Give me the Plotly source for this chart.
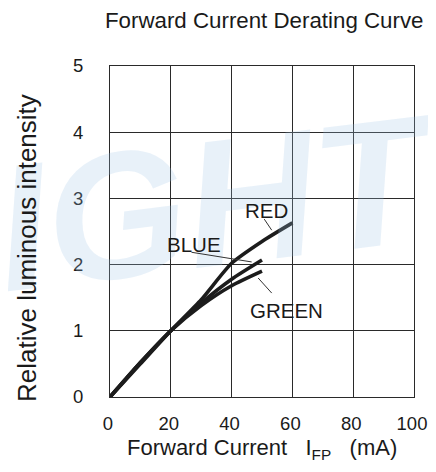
import plotly.graph_objects as go

# Data
current_ma = [0, 10, 20, 30, 40, 50, 60]
red = [0, 0.50, 1.00, 1.47, 2.02, 2.35, 2.63]
current_bg = [0, 10, 20, 30, 40, 50]
blue = [0, 0.52, 1.00, 1.42, 1.78, 2.07]
green = [0, 0.52, 1.00, 1.38, 1.68, 1.90]

x_ticks = [0, 20, 40, 60, 80, 100]
y_ticks = [0, 1, 2, 3, 4, 5]

series_labels = ["RED", "BLUE", "GREEN"]
label_pos = [(51.6, 2.82), (27.6, 2.30), (58.2, 1.31)]
leader_from = [(50.4, 2.71), (26.3, 2.19), (48.3, 1.82)]
leader_to = [(53.2, 2.52), (46.6, 2.04), (53.2, 1.57)]

FONT = "Liberation Sans, Arial, sans-serif"
LINE = "#1c1c1c"
TXT = "#1a1a1a"

# the page body adds an 8px margin on every side; keep the figure inside the window
W, H = 420, 456
ML, MR, MT, MB = 102, 14, 58, 67
PW, PH = W - ML - MR, H - MT - MB


def px(xf):
    return (xf - ML) / PW


def py(yf):
    return 1 - (yf - MT) / PH


fig = go.Figure()
for xs, ys, name in [(current_ma, red, "RED"), (current_bg, blue, "BLUE"), (current_bg, green, "GREEN")]:
    fig.add_trace(go.Scatter(x=xs, y=ys, mode="lines", name=name,
                             line=dict(color=LINE, width=3.6, shape="spline", smoothing=0.6),
                             showlegend=False, hoverinfo="skip"))

annotations = []
# faint watermark
annotations.append(dict(text="<b><i>LIGHT</i></b>", xref="paper", yref="paper",
                        x=px(154), y=py(202), xanchor="center", yanchor="middle",
                        showarrow=False, textangle=-7,
                        font=dict(family=FONT, size=180, color="rgba(160,195,228,0.24)")))
for lab, (lx, ly), (fx, fy), (tx, ty) in zip(series_labels, label_pos, leader_from, leader_to):
    annotations.append(dict(text=lab, x=lx, y=ly, xref="x", yref="y", showarrow=False,
                            xanchor="center", yanchor="middle",
                            font=dict(family=FONT, size=20.5, color=TXT)))
    annotations.append(dict(text="", x=tx, y=ty, xref="x", yref="y", ax=fx, ay=fy,
                            axref="x", ayref="y", showarrow=True, arrowhead=0,
                            arrowwidth=1, arrowcolor="#333333", standoff=0, startstandoff=0))
# axis titles
annotations.append(dict(text="Relative luminous intensity", xref="paper", yref="paper",
                        x=px(19), y=py(240), xanchor="center", yanchor="middle",
                        textangle=-90, showarrow=False,
                        font=dict(family=FONT, size=26, color=TXT)))
annotations.append(dict(text="Forward Current   I<sub>FP</sub>   (mA)", xref="paper", yref="paper",
                        x=px(253.5), y=py(441), xanchor="center", yanchor="middle",
                        showarrow=False, font=dict(family=FONT, size=22, color=TXT)))

axis_common = dict(showgrid=True, gridcolor="#2a2a2a", gridwidth=1, zeroline=False,
                   showline=True, linecolor="#2a2a2a", linewidth=1, mirror=True,
                   ticks="", automargin=False, ticklabeloverflow="allow",
                   tickfont=dict(family=FONT, size=18.5, color=TXT))

fig.update_layout(
    width=W, height=H,
    margin=dict(l=ML, r=MR, t=MT, b=MB, autoexpand=False),
    paper_bgcolor="white", plot_bgcolor="white",
    font=dict(family=FONT, color=TXT),
    title=dict(text="Forward Current Derating Curve", x=97 / W, xanchor="left",
               xref="container", y=1 - 12 / H, yanchor="middle", yref="container",
               font=dict(family=FONT, size=22.3, color=TXT)),
    annotations=annotations,
    xaxis=dict(range=[0, 100], tickvals=x_ticks, ticktext=[str(v) for v in x_ticks],
               ticklabelstandoff=10, ticklabelshift=-2, **axis_common),
    yaxis=dict(range=[0, 5], tickvals=y_ticks, ticktext=[str(v) for v in y_ticks],
               ticklabelstandoff=22, **axis_common),
)

fig.write_html("out.html")
